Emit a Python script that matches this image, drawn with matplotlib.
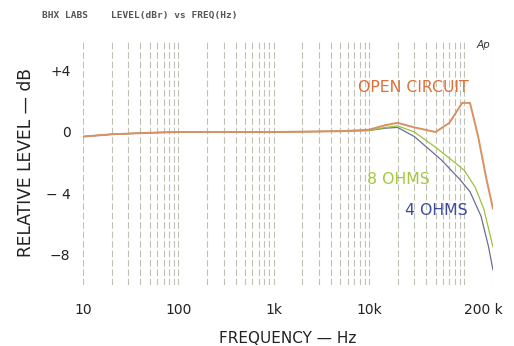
import numpy as np
import matplotlib.pyplot as plt
import matplotlib.transforms as mtransforms
from matplotlib.ticker import FixedLocator, NullLocator

# -- Data ----------------------------------------------------------------------
freq_open = [10, 20, 50, 100, 1000, 5000, 10000, 15000, 20000, 30000, 50000,
             70000, 95000, 115000, 140000, 170000, 200000]
level_open = [-0.3, -0.15, -0.05, 0.0, 0.0, 0.05, 0.15, 0.45, 0.6, 0.3, 0.0,
              0.6, 1.9, 1.9, -0.3, -3.0, -5.0]

freq_8 = [10, 20, 50, 100, 1000, 5000, 10000, 15000, 20000, 30000, 50000,
          80000, 100000, 130000, 160000, 200000]
level_8 = [-0.3, -0.15, -0.05, 0.0, 0.0, 0.05, 0.1, 0.3, 0.4, 0.0, -1.0,
           -2.0, -2.5, -3.6, -5.0, -7.5]

freq_4 = [10, 20, 50, 100, 1000, 5000, 10000, 15000, 20000, 30000, 57000,
          90000, 115000, 150000, 180000, 200000]
level_4 = [-0.3, -0.15, -0.05, 0.0, 0.0, 0.05, 0.1, 0.25, 0.3, -0.3, -1.8,
           -3.1, -3.9, -5.5, -7.5, -9.0]

ytick_vals = [4, 0, -4, -8]
ytick_text = ["+4", "0", "\u2212 4", "\u22128"]
xtick_vals = [10, 100, 1000, 10000, 200000]
xtick_text = ["10", "100", "1k", "10k", "200 k"]

INK = "#222222"

fig = plt.figure(figsize=(5.14, 3.46), dpi=100)
ax = fig.add_axes([0.1615, 0.176, 0.7975, 0.708])
ax.set_xscale("log")
ax.set_xlim(10, 200000)
ax.set_ylim(-10, 6)

# vertical grid at 1..9 of each decade
for dec in [10, 100, 1000, 10000, 100000]:
    for m in range(1, 10):
        f = dec * m
        if f > 200000:
            break
        ax.axvline(f, color="#bfc2b4", linewidth=0.8, linestyle=(0, (6, 2.5)),
                   zorder=1)

ax.plot(freq_4, level_4, color="#6a6f96", linewidth=0.9, zorder=3)
ax.plot(freq_8, level_8, color="#9cc23a", linewidth=0.9, zorder=3)
ax.plot(freq_open, level_open, color="#d99064", linewidth=1.4, zorder=4)

ax.text(29500, 2.9, "OPEN CIRCUIT", color="#e0703a", fontsize=11.3,
        ha="center", va="center")
ax.text(20500, -3.1, "8 OHMS", color="#a3c93e", fontsize=11.3,
        ha="center", va="center")
ax.text(51000, -5.1, "4 OHMS", color="#3d4b9c", fontsize=11.3,
        ha="center", va="center")
ax.text(160000, 5.7, "Ap", color="#333333", fontsize=7.5, style="italic",
        ha="center", va="center")

for s in ax.spines.values():
    s.set_visible(False)
ax.xaxis.set_major_locator(FixedLocator(xtick_vals))
ax.xaxis.set_minor_locator(NullLocator())
ax.set_xticklabels(xtick_text)
ax.set_yticks(ytick_vals)
ax.set_yticklabels(ytick_text)
ax.tick_params(length=0, labelsize=10, colors=INK)
ax.tick_params(axis="x", pad=13)
ax.tick_params(axis="y", pad=9)

# the "200 k" label sits left of its grid line in the reference
last = ax.get_xticklabels()[-1]
last.set_transform(last.get_transform() +
                   mtransforms.ScaledTranslation(-10 / 100, 0, fig.dpi_scale_trans))

ax.set_xlabel("FREQUENCY \u2014 Hz", fontsize=11, color=INK, labelpad=10)
ax.set_ylabel("RELATIVE LEVEL \u2014 dB", fontsize=12.3, color=INK, labelpad=8)

fig.text(0.082, 0.955, "BHX LABS    LEVEL(dBr) vs FREQ(Hz)", fontsize=6.8,
         family="DejaVu Sans Mono", weight="bold", color="#555555",
         ha="left", va="center")

fig.savefig("out.png", dpi=100)
